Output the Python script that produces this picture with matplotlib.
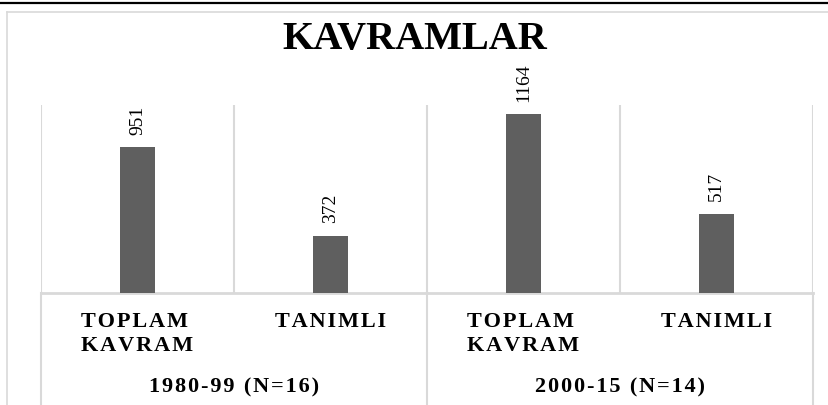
import matplotlib
matplotlib.use("Agg")
import matplotlib.pyplot as plt
from matplotlib.lines import Line2D

# data
groups = ["1980-99 (N=16)", "2000-15 (N=14)"]
categories = ["TOPLAM\nKAVRAM", "TANIMLI", "TOPLAM\nKAVRAM", "TANIMLI"]
values = [951, 372, 1164, 517]

bar_color = "#5f5f5f"
grid_color = "#d9d9d9"
serif = ["Liberation Serif", "DejaVu Serif"]


def spaced(s, gap="\u200a"):
    # Excel-style letter spacing, faked with hair spaces between letters
    return "\n".join(gap.join(line) for line in s.split("\n"))


W, H = 829, 405
fig = plt.figure(figsize=(W / 100, H / 100), dpi=100)
ax = fig.add_axes([41 / W, 1 - 293 / H, (813 - 41) / W, (293 - 105) / H])

x = list(range(len(values)))
ax.bar(x, values, width=0.18, color=bar_color, zorder=3)
ax.set_xlim(-0.5, len(values) - 0.5)
ax.set_ylim(0, 1225)

for xi, v in zip(x, values):
    ax.annotate(str(v), (xi, v), xytext=(0, 9), textcoords="offset points",
                rotation=90, ha="center", va="bottom", fontsize=14,
                family=serif, color="black")

# category gridlines
for b in [i - 0.5 for i in range(len(values) + 1)]:
    ax.axvline(b, color=grid_color, lw=1.5, zorder=1)

for s in ax.spines.values():
    s.set_visible(False)
ax.set_xticks([])
ax.set_yticks([])

tr = ax.get_xaxis_transform()
# axis line and group separators below the plot
ax.plot([-0.5, len(values) - 0.5], [0, 0], color=grid_color, lw=2,
        transform=tr, clip_on=False, zorder=2)
for b in [-0.5, 1.5, 3.5]:
    ax.plot([b, b], [0, -0.7], color=grid_color, lw=1.5,
            transform=tr, clip_on=False)

for xi, c in zip(x, categories):
    ax.text(xi, -0.1, spaced(c), transform=tr, ha="center", va="top",
            fontsize=16, fontweight="bold", family=serif,
            linespacing=1.25, multialignment="left")

for gi, g in enumerate(groups):
    ax.text(2 * gi + 0.5, -0.5, spaced(g), transform=tr,
            ha="center", va="center", fontsize=16, fontweight="bold",
            family=serif)

fig.text(415 / W, 1 - 39 / H, "KAVRAMLAR", ha="center", va="center",
         fontsize=29, fontweight="bold", family=serif)

# outer chart frame and page rule
fig.add_artist(Line2D([0, 1], [1 - 2.5 / H, 1 - 2.5 / H], color="black", lw=1.6))
fig.add_artist(Line2D([7.5 / W, 1], [1 - 12 / H, 1 - 12 / H], color=grid_color, lw=1.2))
fig.add_artist(Line2D([7.5 / W, 7.5 / W], [0, 1 - 12 / H], color=grid_color, lw=1.2))

fig.savefig("out.png", dpi=100)
